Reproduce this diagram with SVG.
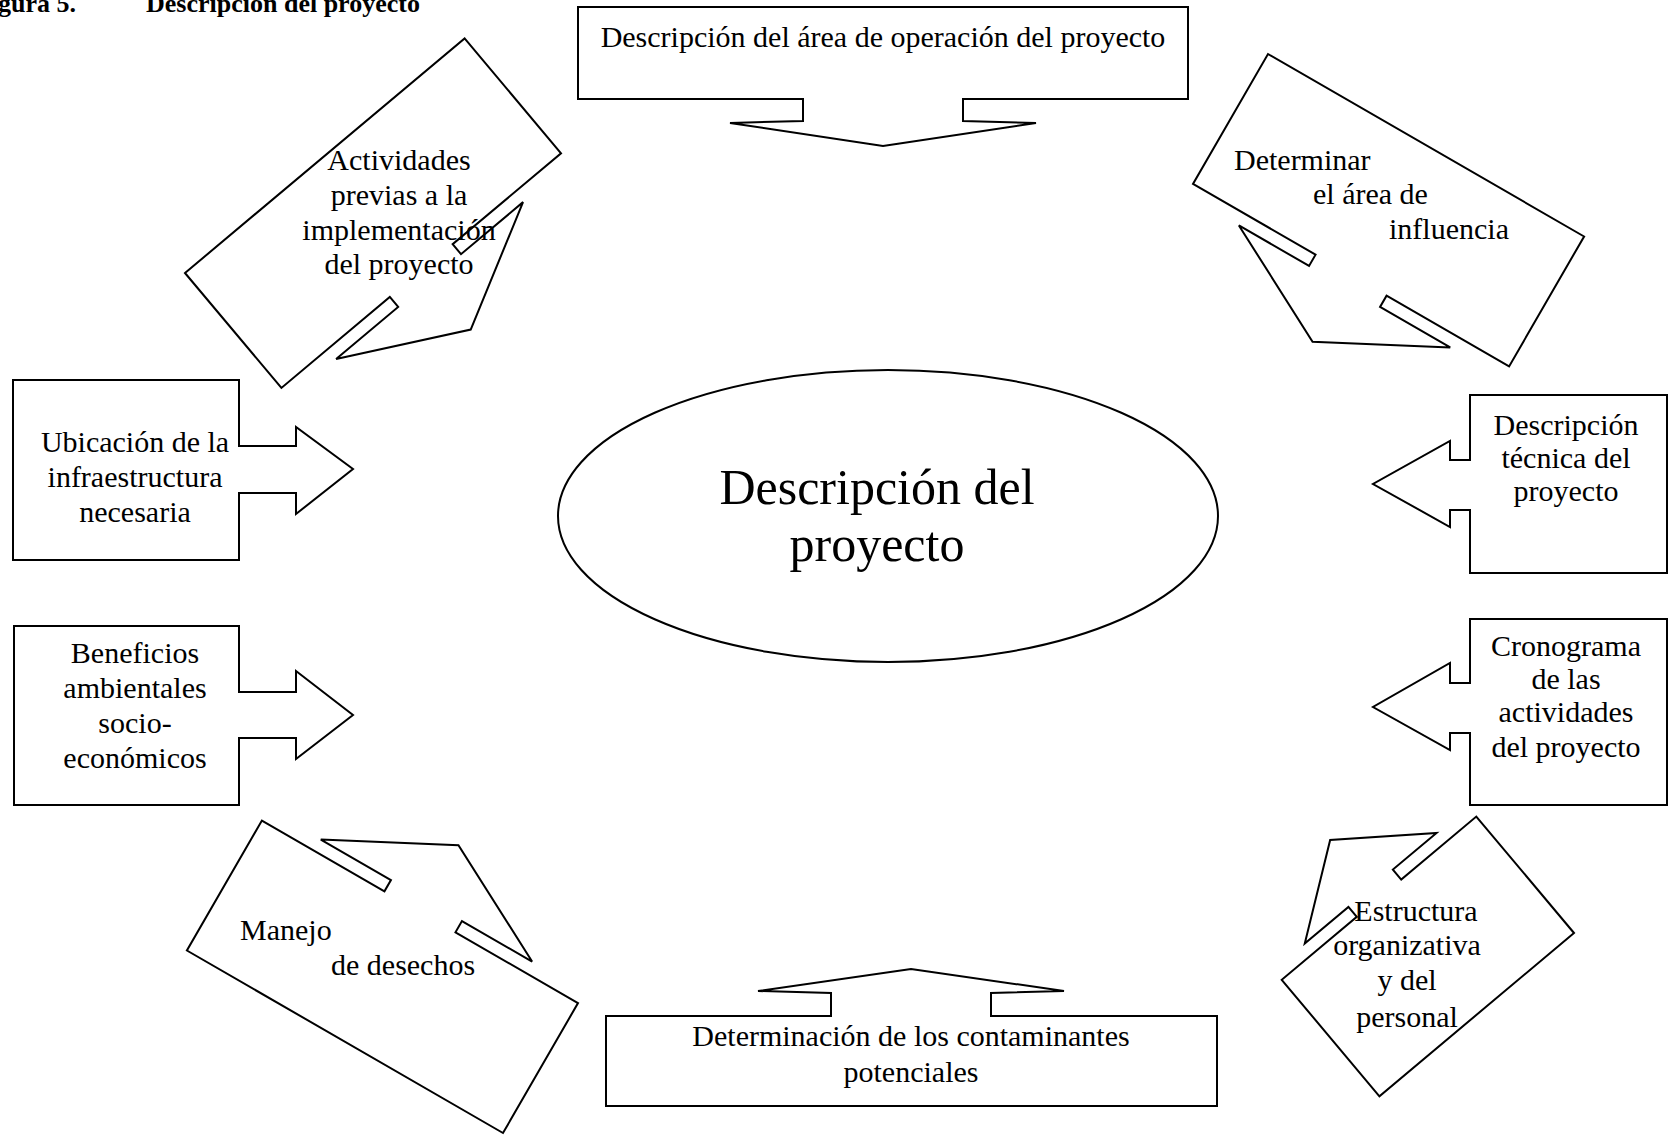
<svg xmlns="http://www.w3.org/2000/svg" width="1668" height="1138" viewBox="0 0 1668 1138">
<style>
.s{fill:#fff;stroke:#000;stroke-width:2;stroke-linejoin:miter}
text{font-family:"Liberation Serif","Times New Roman",serif;font-size:30px;fill:#000}
.m{text-anchor:middle}
.t{font-weight:bold;font-size:26px}
.big{font-size:50px;text-anchor:middle}
</style>
<defs>
<path id="callL" d="M0,0 H365 V150 H223.5 V163 H304.5 L182.5,227 L60.5,163 H141.5 V150 H0 Z"/>
<path id="callS" d="M0,0 H254 V152 H156 V165 H213 L127,228 L41,165 H98 V152 H0 Z"/>
</defs>
<rect width="1668" height="1138" fill="#fff"/>
<g id="title">
<text class="t" x="-2" y="12">gura 5.</text>
<text class="t" x="146" y="12">Descripción del proyecto</text>
</g>
<g id="connectors"></g>
<g id="center">
<ellipse class="s" cx="888" cy="516" rx="330" ry="146"/>
<text class="big" x="877" y="504">Descripción del</text>
<text class="big" x="877" y="561">proyecto</text>
</g>
<g id="n-area-operacion">
<path class="s" d="M578,7 H1188 V99 H963 V121 L1036,123 L883,146 L730,123 L803,121 V99 H578 Z"/>
<text class="m" x="883" y="47">Descripción del área de operación del proyecto</text>
</g>
<g id="n-contaminantes">
<path class="s" d="M606,1016 H831 V993 L758,991 L911,969 L1064,991 L991,993 V1016 H1217 V1106 H606 Z"/>
<text class="m" x="911" y="1046">Determinación de los contaminantes</text>
<text class="m" x="911" y="1082">potenciales</text>
</g>
<g id="n-ubicacion">
<path class="s" d="M13,380 H239 V446 H296 V427 L353,469 L296,514 V493 H239 V560 H13 Z"/>
<text class="m" x="135" y="452">Ubicación de la</text>
<text class="m" x="135" y="487">infraestructura</text>
<text class="m" x="135" y="522">necesaria</text>
</g>
<g id="n-beneficios">
<path class="s" d="M14,626 H239 V692 H296 V671 L353,715 L296,759 V738 H239 V805 H14 Z"/>
<text class="m" x="135" y="663">Beneficios</text>
<text class="m" x="135" y="698">ambientales</text>
<text class="m" x="135" y="733">socio-</text>
<text class="m" x="135" y="768">económicos</text>
</g>
<g id="n-tecnica">
<path class="s" d="M1470,395 H1667 V573 H1470 V510 H1450 V527 L1373,484 L1450,441 V460 H1470 Z"/>
<text class="m" x="1566" y="435">Descripción</text>
<text class="m" x="1566" y="468">técnica del</text>
<text class="m" x="1566" y="501">proyecto</text>
</g>
<g id="n-cronograma">
<path class="s" d="M1470,619 H1667 V805 H1470 V733 H1450 V750 L1373,707 L1450,663 V683 H1470 Z"/>
<text class="m" x="1566" y="656">Cronograma</text>
<text class="m" x="1566" y="689">de las</text>
<text class="m" x="1566" y="722">actividades</text>
<text class="m" x="1566" y="757">del proyecto</text>
</g>
<g id="n-actividades">
<use href="#callL" class="s" transform="translate(185,273) rotate(-40)"/>
<text class="m" x="399" y="170">Actividades</text>
<text class="m" x="399" y="205">previas a la</text>
<text class="m" x="399" y="240">implementación</text>
<text class="m" x="399" y="274">del proyecto</text>
</g>
<g id="n-influencia">
<use href="#callL" class="s" transform="translate(1268,54) rotate(30)"/>
<text x="1234" y="170">Determinar</text>
<text x="1313" y="204">el área de</text>
<text x="1389" y="239">influencia</text>
</g>
<g id="n-desechos">
<use href="#callL" class="s" transform="translate(503,1133) rotate(210)"/>
<text x="240" y="940">Manejo</text>
<text x="331" y="975">de desechos</text>
</g>
<g id="n-estructura">
<use href="#callS" class="s" transform="translate(1574,933) rotate(140)"/>
<text class="m" x="1416" y="921">Estructura</text>
<text class="m" x="1407" y="955">organizativa</text>
<text class="m" x="1407" y="990">y del</text>
<text class="m" x="1407" y="1027">personal</text>
</g>
</svg>
